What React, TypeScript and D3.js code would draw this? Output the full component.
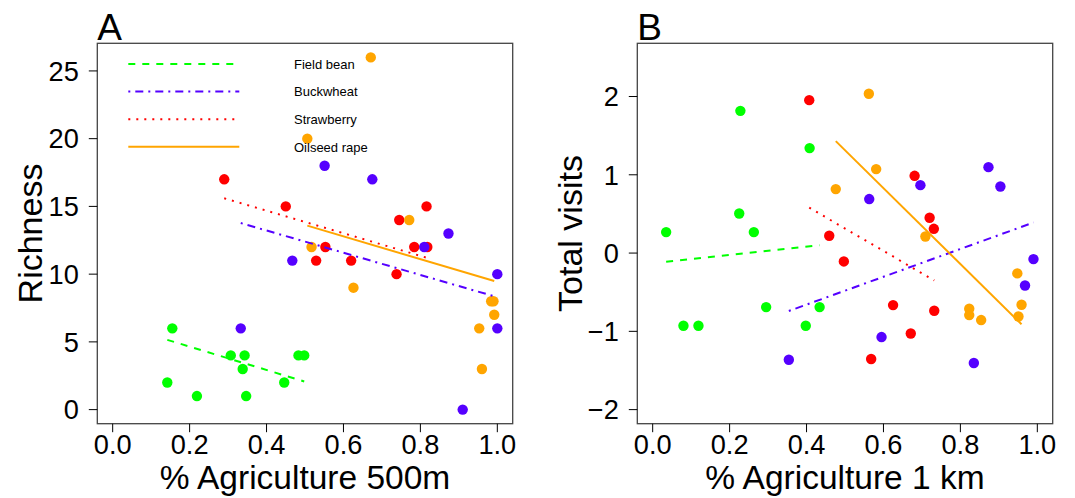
import React from "react";
import * as d3 from "d3";

// ---------- data ----------
const species = ["Field bean", "Buckwheat", "Strawberry", "Oilseed rape"];
const xTicks = [0, 0.2, 0.4, 0.6, 0.8, 1.0];
const richnessTicks = [0, 5, 10, 15, 20, 25];
const visitTicks = [-2, -1, 0, 1, 2];

// Panel A: richness vs % agriculture 500m
const fieldBeanA_x = [0.142, 0.155, 0.219, 0.307, 0.338, 0.343, 0.347, 0.446, 0.483, 0.498];
const fieldBeanA_y = [2, 6, 1, 4, 3, 4, 1, 2, 4, 4];
const buckwheatA_x = [0.333, 0.467, 0.551, 0.675, 0.810, 0.873, 0.910, 1.0, 1.0];
const buckwheatA_y = [6, 11, 18, 17, 12, 13, 0, 10, 6];
const strawberryA_x = [0.290, 0.450, 0.529, 0.553, 0.620, 0.738, 0.745, 0.784, 0.816, 0.818];
const strawberryA_y = [17, 15, 11, 12, 11, 10, 14, 12, 15, 12];
const rapeA_x = [0.506, 0.517, 0.626, 0.671, 0.771, 0.953, 0.960, 0.984, 0.990, 0.992];
const rapeA_y = [20, 12, 9, 26, 14, 6, 3, 8, 8, 7];

// Panel B: total visits vs % agriculture 1 km
const fieldBeanB_x = [0.035, 0.080, 0.119, 0.225, 0.228, 0.263, 0.295, 0.398, 0.408, 0.434];
const fieldBeanB_y = [0.268, -0.928, -0.928, 0.506, 1.817, 0.268, -0.690, -0.928, 1.341, -0.690];
const buckwheatB_x = [0.354, 0.563, 0.595, 0.696, 0.835, 0.873, 0.904, 0.968, 0.990];
const buckwheatB_y = [-1.363, 0.690, -1.073, 0.868, -1.405, 1.098, 0.851, -0.414, -0.077];
const strawberryB_x = [0.407, 0.459, 0.497, 0.568, 0.625, 0.671, 0.681, 0.720, 0.731, 0.732];
const strawberryB_y = [1.954, 0.221, -0.107, -1.354, -0.665, -1.027, 0.987, 0.451, 0.310, -0.737];
const rapeB_x = [0.476, 0.562, 0.581, 0.709, 0.823, 0.823, 0.854, 0.948, 0.951, 0.959];
const rapeB_y = [0.817, 2.035, 1.073, 0.212, -0.711, -0.792, -0.856, -0.26, -0.81, -0.66];

// fitted regression line endpoints [[x0, y0], [x1, y1]]
const fitA_fieldBean = [[0.142, 5.15], [0.498, 2.08]];
const fitA_buckwheat = [[0.333, 13.77], [1.0, 8.3]];
const fitA_strawberry = [[0.290, 15.6], [0.818, 11.2]];
const fitA_rape = [[0.506, 13.58], [0.992, 9.49]];
const fitB_fieldBean = [[0.035, -0.11], [0.434, 0.10]];
const fitB_buckwheat = [[0.354, -0.74], [0.990, 0.39]];
const fitB_strawberry = [[0.407, 0.58], [0.732, -0.35]];
const fitB_rape = [[0.476, 1.43], [0.959, -0.91]];

// ---------- styles ----------
const colors = ["#00ff00", "#5500ff", "#ff0000", "#ffa500"];
const dashes = ["7,7", "2,5,8,5", "2,6", null];
const FONT = "'Liberation Sans', Arial, Helvetica, sans-serif";

const W = 1075;
const H = 498;
const top = 43.3;
const bottom = 423.7;

type Panel = {
  label: string;
  left: number;
  right: number;
  yDomain: [number, number];
  yTicks: number[];
  yTitle: string;
  xTitle: string;
  pts: [number[], number[]][];
  fits: number[][][];
  legend: boolean;
};

const panels: Panel[] = [
  {
    label: "A",
    left: 97.3,
    right: 512.7,
    yDomain: [-1.04, 27.04],
    yTicks: richnessTicks,
    yTitle: "Richness",
    xTitle: "% Agriculture 500m",
    pts: [
      [fieldBeanA_x, fieldBeanA_y],
      [buckwheatA_x, buckwheatA_y],
      [strawberryA_x, strawberryA_y],
      [rapeA_x, rapeA_y],
    ],
    fits: [fitA_fieldBean, fitA_buckwheat, fitA_strawberry, fitA_rape],
    legend: true,
  },
  {
    label: "B",
    left: 637.3,
    right: 1052.7,
    yDomain: [-2.18, 2.68],
    yTicks: visitTicks,
    yTitle: "Total visits",
    xTitle: "% Agriculture 1 km",
    pts: [
      [fieldBeanB_x, fieldBeanB_y],
      [buckwheatB_x, buckwheatB_y],
      [strawberryB_x, strawberryB_y],
      [rapeB_x, rapeB_y],
    ],
    fits: [fitB_fieldBean, fitB_buckwheat, fitB_strawberry, fitB_rape],
    legend: false,
  },
];

// draw order of point layers: green, red, purple, orange
const drawOrder = [0, 2, 1, 3];

function fmtY(v: number) {
  return v < 0 ? "\u2212" + Math.abs(v) : String(v);
}

function PanelView({ p }: { p: Panel }) {
  const x = d3.scaleLinear().domain([-0.04, 1.04]).range([p.left, p.right]);
  const y = d3.scaleLinear().domain(p.yDomain).range([bottom, top]);
  const line = d3
    .line<number[]>()
    .x((d) => x(d[0]))
    .y((d) => y(d[1]));
  const tickFs = 27.2;
  const cx = (p.left + p.right) / 2;
  const cy = (top + bottom) / 2;
  return (
    <g>
      {/* points */}
      {drawOrder.map((si) => {
        const [xs, ys] = p.pts[si];
        return (
          <g key={"p" + si}>
            {xs.map((xv, i) => (
              <circle key={i} cx={x(xv)} cy={y(ys[i])} r={5.2} fill={colors[si]} />
            ))}
          </g>
        );
      })}
      {/* fitted lines */}
      {p.fits.map((f, si) => (
        <path
          key={"f" + si}
          d={line(f) || ""}
          fill="none"
          stroke={colors[si]}
          strokeWidth={2}
          strokeDasharray={dashes[si] || undefined}
        />
      ))}
      {/* box */}
      <rect
        x={p.left}
        y={top}
        width={p.right - p.left}
        height={bottom - top}
        fill="none"
        stroke="#444"
        strokeWidth={1.3}
      />
      {/* x axis */}
      {xTicks.map((t) => (
        <g key={"xt" + t}>
          <line x1={x(t)} x2={x(t)} y1={bottom} y2={bottom + 8.5} stroke="#000" strokeWidth={1} />
          <text x={x(t)} y={454} textAnchor="middle" fontSize={tickFs} fontFamily={FONT} fill="#000">
            {t.toFixed(1)}
          </text>
        </g>
      ))}
      {/* y axis */}
      {p.yTicks.map((t) => (
        <g key={"yt" + t}>
          <line x1={p.left - 8.5} x2={p.left} y1={y(t)} y2={y(t)} stroke="#000" strokeWidth={1} />
          <text
            x={p.left - 18.5}
            y={y(t) + tickFs * 0.36}
            textAnchor="end"
            fontSize={tickFs}
            fontFamily={FONT}
            fill="#000"
          >
            {fmtY(t)}
          </text>
        </g>
      ))}
      {/* titles */}
      <text x={cx} y={488.5} textAnchor="middle" fontSize={33.5} fontFamily={FONT} fill="#000">
        {p.xTitle}
      </text>
      <text
        transform={`translate(${p.left - 55.6},${cy}) rotate(-90)`}
        textAnchor="middle"
        fontSize={34}
        fontFamily={FONT}
        fill="#000"
      >
        {p.yTitle}
      </text>
      <text x={p.left} y={40} fontSize={37} fontFamily={FONT} fill="#000">
        {p.label}
      </text>
      {/* legend */}
      {p.legend &&
        species.map((s, i) => {
          const ly = 64 + i * 27.6;
          return (
            <g key={"lg" + i}>
              <line
                x1={128.3}
                x2={239.3}
                y1={ly}
                y2={ly}
                stroke={colors[i]}
                strokeWidth={2}
                strokeDasharray={dashes[i] || undefined}
              />
              <text x={294} y={ly + 4.7} fontSize={13} fontFamily={FONT} fill="#000">
                {s}
              </text>
            </g>
          );
        })}
    </g>
  );
}

export default function App() {
  return (
    <svg
      width={W}
      height={H}
      viewBox={`0 0 ${W} ${H}`}
      style={{ position: "absolute", left: 0, top: 0, background: "#fff" }}
    >
      <rect x={0} y={0} width={W} height={H} fill="#fff" />
      {panels.map((p) => (
        <PanelView key={p.label} p={p} />
      ))}
    </svg>
  );
}
